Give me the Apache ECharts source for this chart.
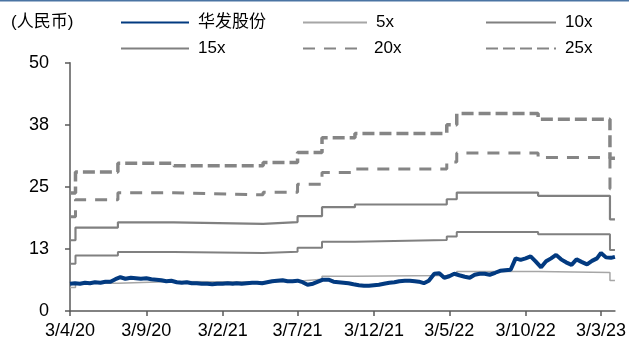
<!DOCTYPE html>
<html><head><meta charset="utf-8">
<script src="https://cdn.jsdelivr.net/npm/echarts@6/dist/echarts.min.js"></script>
<style>html,body{margin:0;padding:0;background:#fff}#c{width:629px;height:347px}</style>
</head><body><div id="c"></div>
<script>
// x-axis tick dates and their labels (d/m/yy)
const tickDates = ['2020-04-03','2020-09-03','2021-02-03','2021-07-03','2021-12-03','2022-05-03','2022-10-03','2023-03-03'];
const tickLabels = ['3/4/20','3/9/20','3/2/21','3/7/21','3/12/21','3/5/22','3/10/22','3/3/23'];
const yTickLabels = ['0','13','25','38','50'];
const axisStart = '2020-04-03';
const axisEnd = '2023-03-31';

// 华发股份 share price (RMB)
const priceDates = [
'2020-04-03','2020-04-13','2020-04-23','2020-05-03','2020-05-13','2020-05-23','2020-06-03','2020-06-13','2020-06-23',
'2020-07-03','2020-07-13','2020-07-23','2020-08-03','2020-08-13','2020-08-23','2020-09-03','2020-09-13','2020-09-23',
'2020-10-03','2020-10-13','2020-10-23','2020-11-03','2020-11-13','2020-11-23','2020-12-03','2020-12-13','2020-12-23',
'2021-01-03','2021-01-13','2021-01-23','2021-02-03','2021-02-13','2021-02-23','2021-03-03','2021-03-13','2021-03-23',
'2021-04-03','2021-04-13','2021-04-23','2021-05-03','2021-05-13','2021-05-23','2021-06-03','2021-06-13','2021-06-23',
'2021-07-03','2021-07-13','2021-07-23','2021-08-03','2021-08-13','2021-08-23','2021-09-03','2021-09-13','2021-09-23',
'2021-10-03','2021-10-13','2021-10-23','2021-11-03','2021-11-13','2021-11-23','2021-12-03','2021-12-13','2021-12-23',
'2022-01-03','2022-01-13','2022-01-23','2022-02-03','2022-02-13','2022-02-23','2022-03-03','2022-03-13','2022-03-23',
'2022-04-03','2022-04-13','2022-04-23','2022-05-03','2022-05-13','2022-05-23','2022-06-03','2022-06-13','2022-06-23',
'2022-07-03','2022-07-13','2022-07-23','2022-08-03','2022-08-13','2022-08-23','2022-09-03','2022-09-13','2022-09-23',
'2022-10-03','2022-10-13','2022-10-23','2022-11-03','2022-11-13','2022-11-23','2022-12-03','2022-12-13','2022-12-23',
'2023-01-03','2023-01-13','2023-01-23','2023-02-03','2023-02-13','2023-02-23','2023-03-03','2023-03-13','2023-03-23','2023-03-31'
];
const priceValues = [
5.5,5.6,5.5, 5.7,5.6,5.8, 5.7,5.9,5.9,
6.4,6.8,6.5, 6.7,6.6,6.5, 6.6,6.4,6.3,
6.2,6.0,6.1, 5.8,5.7,5.8, 5.6,5.6,5.5,
5.5,5.4,5.5, 5.5,5.6,5.5, 5.6,5.5,5.6,
5.7,5.7,5.6, 5.8,6.0,6.1, 6.2,6.0,6.0,
6.1,5.8,5.3, 5.5,5.9,6.3, 6.3,5.9,5.8,
5.7,5.6,5.4, 5.2,5.1,5.1, 5.2,5.3,5.5,
5.7,5.8,6.0, 6.1,6.1,6.0, 5.9,5.6,6.1,
7.5,7.6,6.7, 7.0,7.5,7.2, 6.9,6.7,7.3,
7.5,7.5,7.3, 7.7,8.1,8.2, 8.3,10.6,10.3,
10.6,11.0,10.0, 8.8,10.0,10.6, 11.3,10.4,9.8,
9.3,10.4,9.9, 9.4,10.1,10.6, 11.7,10.8,10.7,10.9
];

// PE band step dates (value holds from each date until the next)
const bandDates = ['2020-04-03','2020-04-14','2020-07-08','2020-10-28','2021-04-25','2021-07-03','2021-08-21','2021-10-26','2022-04-28','2022-05-18','2022-10-28','2023-03-21','2023-03-31'];
const pe5  = [4.75, 5.6, 5.95, 5.85, 5.98, 6.38, 6.98, 7.15, 7.5, 7.95, 7.73, 6.15, 6.15];
const pe10 = [9.5, 11.2, 11.9, 11.7, 11.95, 12.75, 13.95, 14.3, 15.0, 15.9, 15.45, 12.3, 12.3];
const pe15 = [14.25, 16.8, 17.85, 17.55, 17.9, 19.1, 20.9, 21.45, 22.5, 23.85, 23.2, 18.45, 18.45];
const pe20 = [19.0, 22.4, 23.8, 23.4, 23.9, 25.5, 27.9, 28.6, 30.0, 31.8, 30.9, 24.6, 24.6];
const pe25 = [23.75, 28.0, 29.75, 29.25, 29.9, 31.9, 34.9, 35.75, 37.5, 39.75, 38.6, 30.75, 30.75];

const FONT = '"Liberation Sans", Arial, "Noto Sans CJK SC", sans-serif';
const parse = s => { const p = s.split('-').map(Number); return new Date(p[0], p[1] - 1, p[2]).getTime(); };
const tickTs = tickDates.map(parse);
const zip = (ds, vs) => ds.map((d, i) => [parse(d), vs[i]]);

const chart = echarts.init(document.getElementById('c'));
const legendBase = {
  orient: 'horizontal', itemWidth: 68, itemHeight: 14, selectedMode: false,
  itemStyle: { opacity: 0, borderWidth: 0 },
  textStyle: { fontFamily: FONT, fontSize: 17, color: '#000', padding: [0, 0, 0, 4] }
};
const row1 = 9, row2 = 35;
function bandSeries(name, data, color, width, dash) {
  return {
    name, type: 'line', step: 'end', symbol: 'none', data: zip(bandDates, data),
    lineStyle: { color, width, type: dash || 'solid', cap: 'butt' },
    itemStyle: { color }, z: 2
  };
}
chart.setOption({
  animation: false,
  backgroundColor: '#fff',
  title: { text: '(人民币)', left: 6, top: 9, textStyle: { fontFamily: FONT, fontSize: 17, fontWeight: 'normal', color: '#000' } },
  graphic: [{ type: 'rect', shape: { x: 0, y: 0, width: 629, height: 1.5 }, style: { fill: '#4a74a3' } }],
  legend: [
    Object.assign({}, legendBase, { data: ['华发股份'], left: 115, top: row1 }),
    Object.assign({}, legendBase, { data: ['5x'], left: 297, top: row1, itemWidth: 64 }),
    Object.assign({}, legendBase, { data: ['10x'], left: 480, top: row1, itemWidth: 70 }),
    Object.assign({}, legendBase, { data: ['15x'], left: 115, top: row2 }),
    Object.assign({}, legendBase, { data: ['20x'], left: 297, top: row2, itemWidth: 62 }),
    Object.assign({}, legendBase, { data: ['25x'], left: 480, top: row2, itemWidth: 70 })
  ],
  grid: { left: 70, right: 14, top: 62.7, bottom: 36, containLabel: false },
  xAxis: {
    type: 'value', min: parse(axisStart), max: parse(axisEnd),
    axisLine: { show: true, lineStyle: { color: '#595959', width: 1.5 } },
    axisTick: { show: true, length: 5, customValues: tickTs, lineStyle: { color: '#595959', width: 1.5 } },
    axisLabel: {
      customValues: tickTs, margin: 11, fontFamily: FONT, fontSize: 18, color: '#000',
      formatter: v => { const i = tickTs.findIndex(t => Math.abs(t - v) < 43200000); return i >= 0 ? tickLabels[i] : ''; }
    },
    splitLine: { show: false }
  },
  yAxis: {
    type: 'value', min: 0, max: 50, interval: 12.5,
    axisLine: { show: true, lineStyle: { color: '#595959', width: 1.5 } },
    axisTick: { show: true, length: 5, lineStyle: { color: '#595959', width: 1.5 } },
    axisLabel: { margin: 21, fontFamily: FONT, fontSize: 18, color: '#000',
      formatter: v => yTickLabels[Math.round(v / 12.5)] },
    splitLine: { show: false }
  },
  series: [
    { name: '华发股份', type: 'line', symbol: 'none', data: zip(priceDates, priceValues),
      lineStyle: { color: '#023a80', width: 4 }, itemStyle: { color: '#023a80' }, z: 5 },
    bandSeries('5x', pe5, '#a6a6a6', 1.5),
    bandSeries('10x', pe10, '#808080', 2),
    bandSeries('15x', pe15, '#808080', 2.2),
    bandSeries('20x', pe20, '#858585', 3, [12, 9]),
    bandSeries('25x', pe25, '#858585', 3.5, [12, 5])
  ]
});
</script></body></html>
